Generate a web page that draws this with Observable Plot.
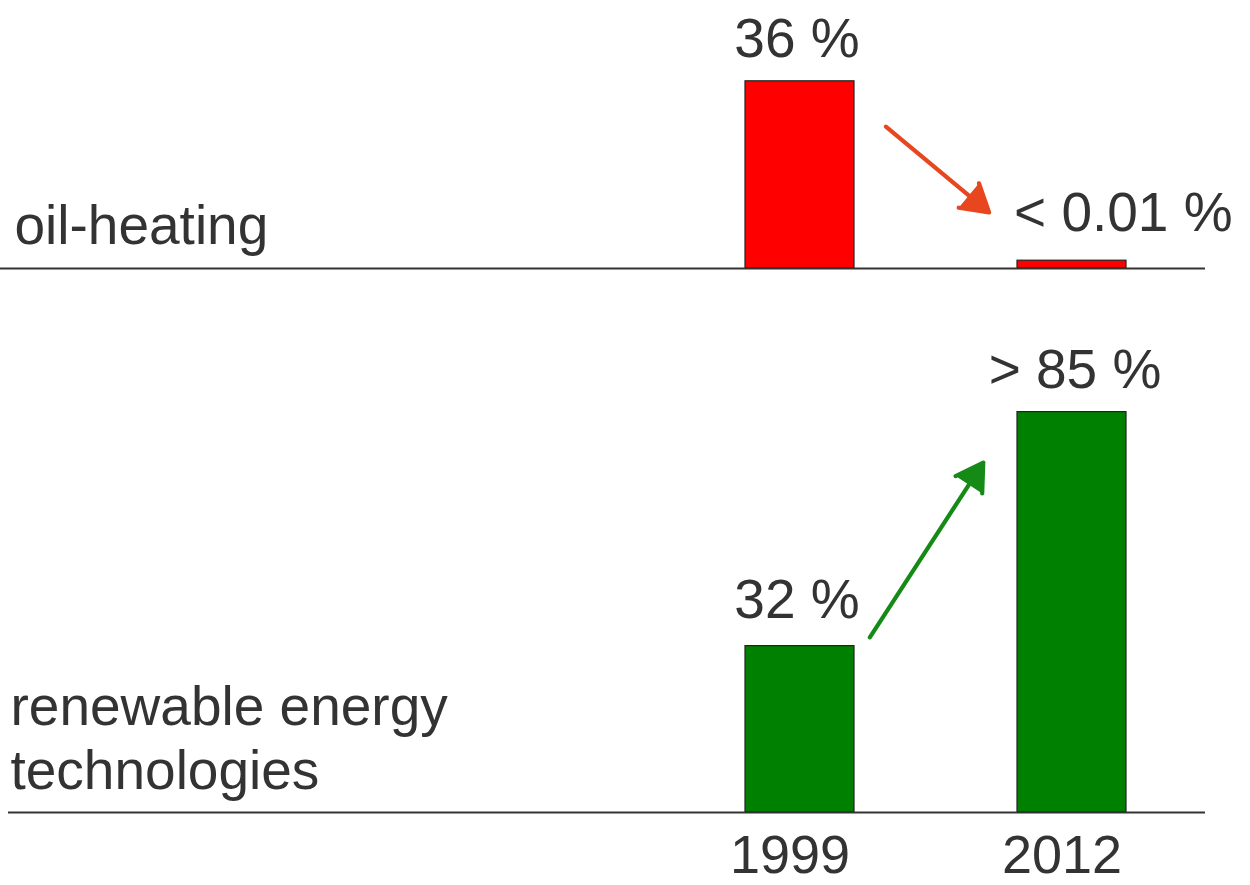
<!DOCTYPE html>
<html><head><meta charset="utf-8">
<script src="https://cdn.jsdelivr.net/npm/d3@7"></script>
<script src="https://cdn.jsdelivr.net/npm/@observablehq/plot@0.6"></script>
<style>
html,body{margin:0;padding:0;background:#fff;}
#chart{position:relative;width:1250px;height:885px;overflow:hidden;background:#fff;}
#chart svg{position:absolute;left:0;overflow:visible;}
</style></head><body><div id="chart"></div>
<script>
// ---- data ----
const years = ["1999", "2012"];
const oilValues = [36, 1.5];              // bar heights as drawn
const oilLabels = ["36 %", "< 0.01 %"];
const renewableValues = [32, 77];         // bar heights as drawn
const renewableLabels = ["32 %", "> 85 %"];
const panelNames = ["oil-heating", "renewable energy\ntechnologies"];
const oilArrowY = [40.98, -2.43];         // arrow line through the band centres
const renewableArrowY = [12.98, 93.58];

const font = "'Liberation Sans', Arial, Helvetica, sans-serif";
const FS = 55;
const pxPerUnit = 5.2;
const W = 1250;

const oilRows = years.map((y, i) => ({year: y, value: oilValues[i], label: oilLabels[i]}));
const renRows = years.map((y, i) => ({year: y, value: renewableValues[i], label: renewableLabels[i]}));

function xScale() {
  return {type: "band", domain: years, paddingInner: 0.6, paddingOuter: 1.507, align: 0.9035, axis: null};
}

// ---- top panel: oil-heating ----
const topH = 290, topBase = 268;
const topPlot = Plot.plot({
  width: W, height: topH,
  marginTop: 0, marginBottom: topH - topBase, marginLeft: 0, marginRight: 45,
  style: {fontFamily: font, fontSize: FS + "px", color: "#333", background: "transparent"},
  x: xScale(),
  y: {domain: [0, topBase / pxPerUnit], axis: null},
  marks: [
    Plot.barY(oilRows, {x: "year", y: "value", fill: "#ff0000", stroke: "#222", strokeWidth: 1.2}),
    Plot.ruleY([0], {stroke: "#333", strokeWidth: 2.2}),
    Plot.text(oilRows.slice(0, 1), {x: "year", y: "value", text: "label", lineAnchor: "bottom", dy: -24, dx: -3, fontSize: FS, fill: "#333"}),
    Plot.text(oilRows.slice(1), {x: "year", y: "value", text: "label", lineAnchor: "bottom", textAnchor: "start", dx: -58, dy: -30, fontSize: FS, fill: "#333"}),
    Plot.text([panelNames[0]], {text: d => d, frameAnchor: "bottom-left", lineAnchor: "bottom", dx: 14, dy: -25, fontSize: FS, fill: "#333"}),
    Plot.arrow([{x1: years[0], x2: years[1], y1: oilArrowY[0], y2: oilArrowY[1]}],
      {x1: "x1", x2: "x2", y1: "y1", y2: "y2", stroke: "#e8461f", fill: "#e8461f", strokeWidth: 4.2,
       headLength: 11, headAngle: 62, insetStart: 111.6, insetEnd: 107.7})
  ]
});
topPlot.style.top = "0px";

// ---- bottom panel: renewable energy technologies ----
const botTop = 290, botH = 885 - 290, botBase = 812 - 290;
const botPlot = Plot.plot({
  width: W, height: botH,
  marginTop: 0, marginBottom: botH - botBase, marginLeft: 0, marginRight: 45,
  style: {fontFamily: font, fontSize: FS + "px", color: "#333", background: "transparent"},
  x: xScale(),
  y: {domain: [0, botBase / pxPerUnit], axis: null},
  marks: [
    Plot.barY(renRows, {x: "year", y: "value", fill: "#008000", stroke: "#222", strokeWidth: 1.2}),
    Plot.ruleY([0], {stroke: "#333", strokeWidth: 2.2, insetLeft: 8}),
    Plot.axisX({tickSize: 0, tickPadding: 22, fontSize: 54, dx: -10, fill: "#333"}),
    Plot.text(renRows.slice(0, 1), {x: "year", y: "value", text: "label", lineAnchor: "bottom", dy: -28, dx: -3, fontSize: FS, fill: "#333"}),
    Plot.text(renRows.slice(1), {x: "year", y: "value", text: "label", lineAnchor: "bottom", dy: -24, dx: 3, fontSize: FS, fill: "#333"}),
    Plot.text([panelNames[1]], {text: d => d, frameAnchor: "bottom-left", lineAnchor: "bottom", lineHeight: 1.16, dx: 10, dy: -24, fontSize: FS, fill: "#333"}),
    Plot.arrow([{x1: years[0], x2: years[1], y1: renewableArrowY[0], y2: renewableArrowY[1]}],
      {x1: "x1", x2: "x2", y1: "y1", y2: "y2", stroke: "#168a16", fill: "#168a16", strokeWidth: 4.2,
       headLength: 11, headAngle: 62, insetStart: 128.3, insetEnd: 163.0})
  ]
});
botPlot.style.top = botTop + "px";

const chart = document.getElementById("chart");
chart.appendChild(topPlot);
chart.appendChild(botPlot);
</script>
</body></html>
